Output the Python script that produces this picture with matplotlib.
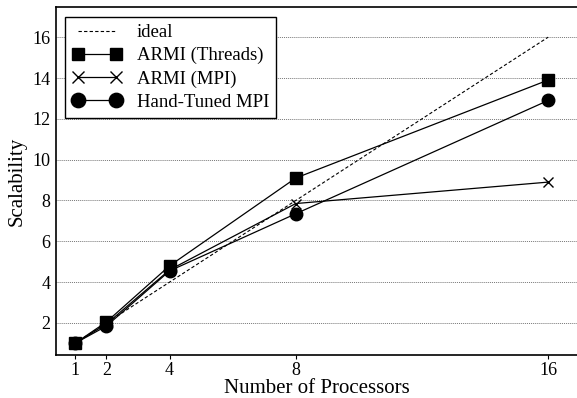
import matplotlib
matplotlib.use("Agg")
from matplotlib import pyplot as plt

procs = [1, 2, 4, 8, 16]
ideal = [1, 2, 4, 8, 16]
armi_threads = [1.0, 2.05, 4.8, 9.1, 13.9]
armi_mpi = [1.0, 1.95, 4.6, 7.85, 8.9]
hand_mpi = [1.0, 1.85, 4.55, 7.35, 12.9]
yticks = [2, 4, 6, 8, 10, 12, 14, 16]

plt.rcParams['font.family'] = ['Liberation Serif', 'DejaVu Serif']

fig = plt.figure(figsize=(5.77, 3.98), dpi=100)
ax = fig.add_axes([0.097, 0.108, 0.905, 0.874])

ax.plot(procs, ideal, color="black", linestyle=(0, (3, 2)), linewidth=0.8, label="ideal")
ax.plot(procs, armi_threads, color="black", linewidth=0.9, marker="s", markersize=8, label="ARMI (Threads)")
ax.plot(procs, armi_mpi, color="black", linewidth=0.9, marker="x", markersize=7, markeredgewidth=1.0, label="ARMI (MPI)")
ax.plot(procs, hand_mpi, color="black", linewidth=0.9, marker="o", markersize=9, label="Hand-Tuned MPI")

ax.set_xlim(0.4, 16.95)
ax.set_ylim(0.43, 17.47)
ax.set_xticks(procs)
ax.set_yticks(yticks)
ax.yaxis.grid(True, linestyle=(0, (1, 1)), color="#777777", linewidth=0.7)
ax.set_axisbelow(True)
ax.tick_params(axis="x", direction="out", length=3, labelsize=13, pad=2)
ax.tick_params(axis="y", length=0, labelsize=13, pad=4)
for s in ["left", "bottom", "top"]:
    ax.spines[s].set_linewidth(1.2)
ax.spines["right"].set_visible(False)

ax.set_xlabel("Number of Processors", fontsize=15, labelpad=0)
ax.set_ylabel("Scalability", fontsize=15, labelpad=4)

leg = ax.legend(loc="upper left", fontsize=13.5, fancybox=False, framealpha=1,
                edgecolor="black", handlelength=2.6, numpoints=2, markerscale=1.15,
                borderaxespad=0.5, labelspacing=0.32, borderpad=0.4, handletextpad=0.8)
leg.get_frame().set_linewidth(1.0)

plt.savefig("out.png", dpi=100)
